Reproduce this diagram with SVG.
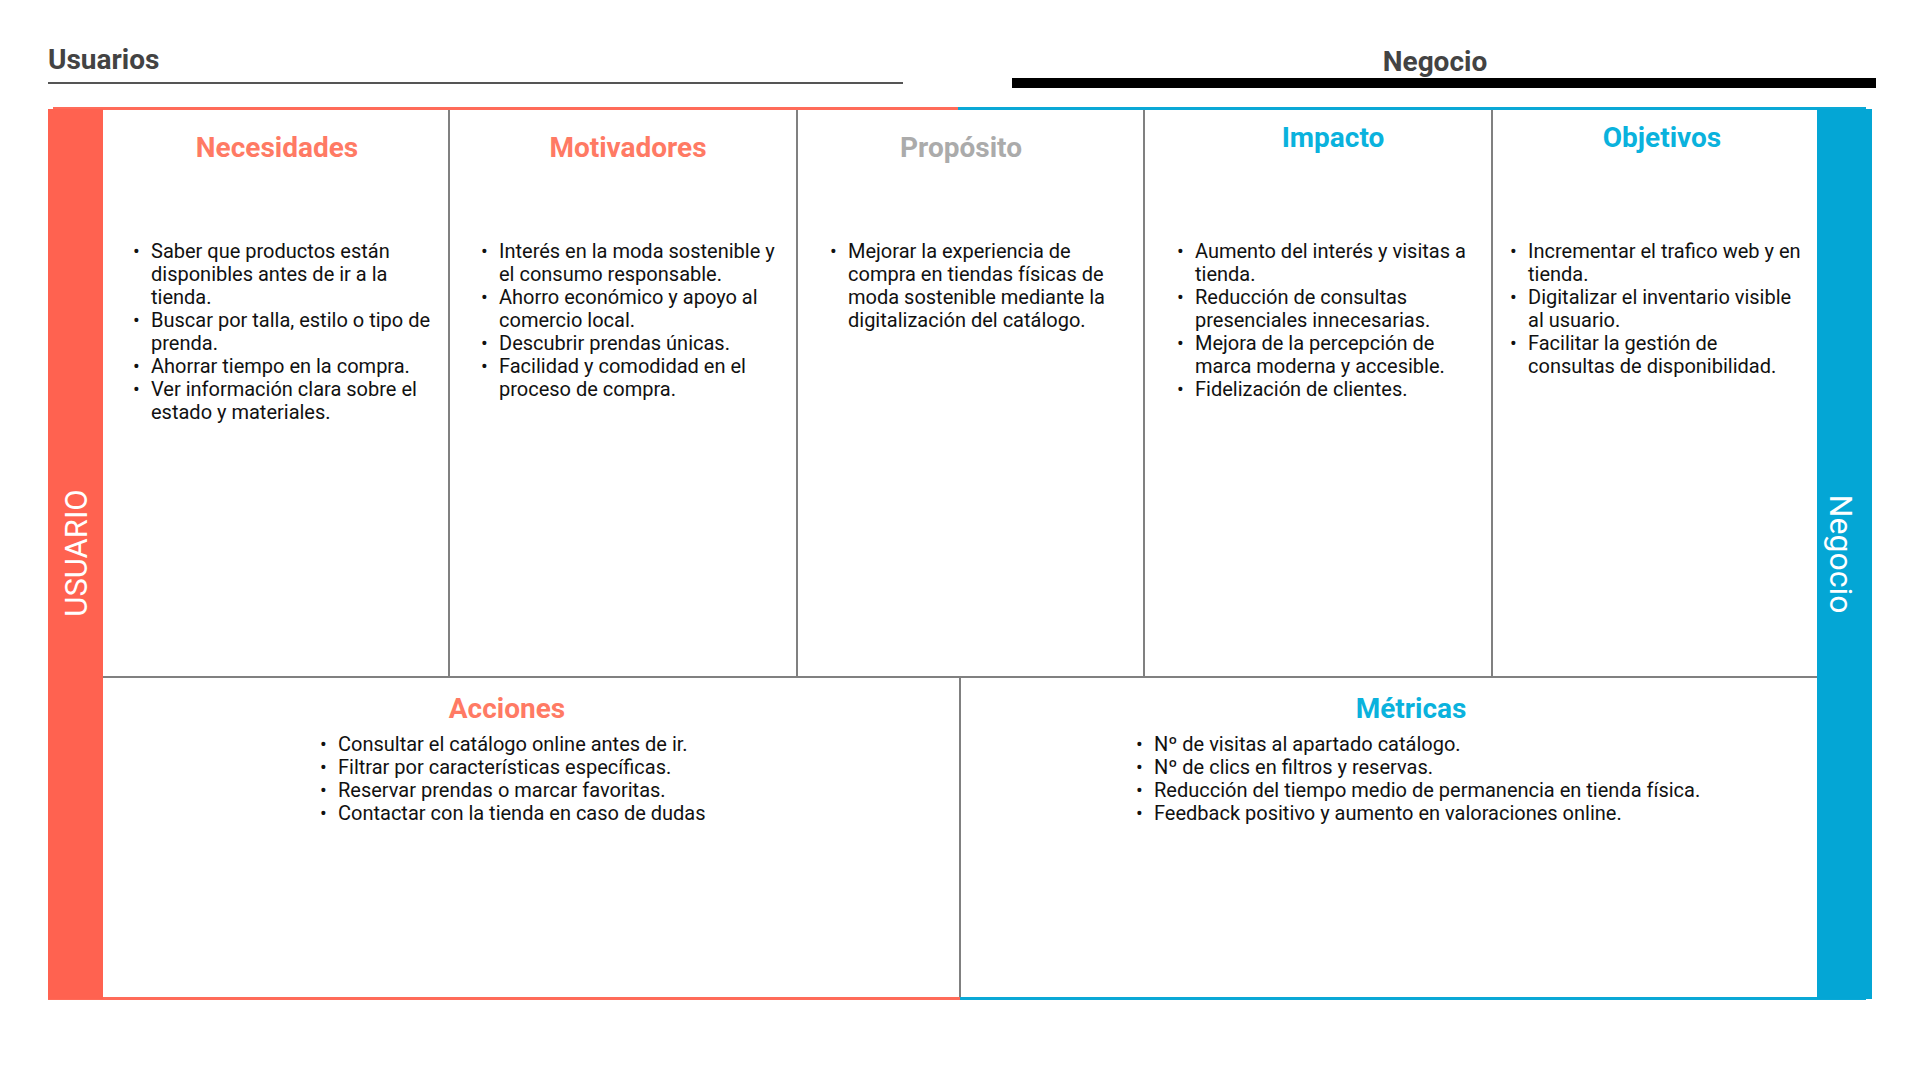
<svg xmlns="http://www.w3.org/2000/svg" width="1920" height="1080" viewBox="0 0 1920 1080">
<style>
.hdr{font-family:Roboto,"Liberation Sans",sans-serif;font-weight:700;font-size:28px;fill:#434343}
.ttl{font-family:Roboto,"Liberation Sans",sans-serif;font-weight:700;font-size:28px;text-anchor:middle}
.red{fill:#FF7A64}
.blue{fill:#0AB2DD}
.grey{fill:#ABABAB}
.body{font-family:Roboto,"Liberation Sans",sans-serif;font-size:20px;fill:#111}
.side{font-family:Roboto,"Liberation Sans",sans-serif;font-weight:400;font-size:31px;fill:#fff;text-anchor:middle}
.div{stroke:#808080;stroke-width:2;fill:none}
</style>
<rect width="1920" height="1080" fill="#fff"/>
<g id="header-usuarios">
<text class="hdr" x="48" y="69">Usuarios</text>
<line x1="48" y1="83" x2="903" y2="83" stroke="#555" stroke-width="2"/>
</g>
<g id="header-negocio">
<text class="hdr" x="1435" y="71" text-anchor="middle">Negocio</text>
<rect x="1012" y="78" width="864" height="10" fill="#000"/>
</g>
<g id="frame">
<line x1="53" y1="108.5" x2="958" y2="108.5" stroke="#FF6B59" stroke-width="3"/>
<line x1="958" y1="108.5" x2="1866" y2="108.5" stroke="#0AA8D6" stroke-width="3"/>
<line x1="48" y1="998.5" x2="960" y2="998.5" stroke="#FF6B59" stroke-width="3"/>
<line x1="960" y1="998.5" x2="1866" y2="998.5" stroke="#0AA8D6" stroke-width="3"/>
</g>
<g id="connectors">
<line class="div" x1="449" y1="110" x2="449" y2="677"/>
<line class="div" x1="797" y1="110" x2="797" y2="677"/>
<line class="div" x1="1144" y1="110" x2="1144" y2="677"/>
<line class="div" x1="1492" y1="110" x2="1492" y2="677"/>
<line class="div" x1="103" y1="677" x2="1817" y2="677"/>
<line class="div" x1="960" y1="677" x2="960" y2="997"/>
</g>
<g id="usuario-bar">
<rect x="48" y="109" width="55" height="890" fill="#FF6250"/>
<text class="side" transform="translate(86.5,553) rotate(-90)">USUARIO</text>
</g>
<g id="negocio-bar">
<rect x="1817" y="109" width="55" height="890" fill="#04A6D5"/>
<text class="side" style="font-size:32px" transform="translate(1830,554) rotate(90)">Negocio</text>
</g>
<g id="necesidades">
<text class="ttl red" x="277" y="157">Necesidades</text>
<text class="body">
<tspan x="133" y="258">•</tspan><tspan x="151" y="258">Saber que productos están</tspan>
<tspan x="151" y="281">disponibles antes de ir a la</tspan>
<tspan x="151" y="304">tienda.</tspan>
<tspan x="133" y="327">•</tspan><tspan x="151" y="327">Buscar por talla, estilo o tipo de</tspan>
<tspan x="151" y="350">prenda.</tspan>
<tspan x="133" y="373">•</tspan><tspan x="151" y="373">Ahorrar tiempo en la compra.</tspan>
<tspan x="133" y="396">•</tspan><tspan x="151" y="396">Ver información clara sobre el</tspan>
<tspan x="151" y="419">estado y materiales.</tspan>
</text>
</g>
<g id="motivadores">
<text class="ttl red" x="628" y="157">Motivadores</text>
<text class="body">
<tspan x="481" y="258">•</tspan><tspan x="499" y="258">Interés en la moda sostenible y</tspan>
<tspan x="499" y="281">el consumo responsable.</tspan>
<tspan x="481" y="304">•</tspan><tspan x="499" y="304">Ahorro económico y apoyo al</tspan>
<tspan x="499" y="327">comercio local.</tspan>
<tspan x="481" y="350">•</tspan><tspan x="499" y="350">Descubrir prendas únicas.</tspan>
<tspan x="481" y="373">•</tspan><tspan x="499" y="373">Facilidad y comodidad en el</tspan>
<tspan x="499" y="396">proceso de compra.</tspan>
</text>
</g>
<g id="proposito">
<text class="ttl grey" x="961" y="157">Propósito</text>
<text class="body">
<tspan x="830" y="258">•</tspan><tspan x="848" y="258">Mejorar la experiencia de</tspan>
<tspan x="848" y="281">compra en tiendas físicas de</tspan>
<tspan x="848" y="304">moda sostenible mediante la</tspan>
<tspan x="848" y="327">digitalización del catálogo.</tspan>
</text>
</g>
<g id="impacto">
<text class="ttl blue" x="1333" y="147">Impacto</text>
<text class="body">
<tspan x="1177" y="258">•</tspan><tspan x="1195" y="258">Aumento del interés y visitas a</tspan>
<tspan x="1195" y="281">tienda.</tspan>
<tspan x="1177" y="304">•</tspan><tspan x="1195" y="304">Reducción de consultas</tspan>
<tspan x="1195" y="327">presenciales innecesarias.</tspan>
<tspan x="1177" y="350">•</tspan><tspan x="1195" y="350">Mejora de la percepción de</tspan>
<tspan x="1195" y="373">marca moderna y accesible.</tspan>
<tspan x="1177" y="396">•</tspan><tspan x="1195" y="396">Fidelización de clientes.</tspan>
</text>
</g>
<g id="objetivos">
<text class="ttl blue" x="1662" y="147">Objetivos</text>
<text class="body">
<tspan x="1510" y="258">•</tspan><tspan x="1528" y="258">Incrementar el trafico web y en</tspan>
<tspan x="1528" y="281">tienda.</tspan>
<tspan x="1510" y="304">•</tspan><tspan x="1528" y="304">Digitalizar el inventario visible</tspan>
<tspan x="1528" y="327">al usuario.</tspan>
<tspan x="1510" y="350">•</tspan><tspan x="1528" y="350">Facilitar la gestión de</tspan>
<tspan x="1528" y="373">consultas de disponibilidad.</tspan>
</text>
</g>
<g id="acciones">
<text class="ttl red" x="507" y="718">Acciones</text>
<text class="body">
<tspan x="320" y="751">•</tspan><tspan x="338" y="751">Consultar el catálogo online antes de ir.</tspan>
<tspan x="320" y="774">•</tspan><tspan x="338" y="774">Filtrar por características específicas.</tspan>
<tspan x="320" y="797">•</tspan><tspan x="338" y="797">Reservar prendas o marcar favoritas.</tspan>
<tspan x="320" y="820">•</tspan><tspan x="338" y="820">Contactar con la tienda en caso de dudas</tspan>
</text>
</g>
<g id="metricas">
<text class="ttl blue" x="1411" y="718">Métricas</text>
<text class="body">
<tspan x="1136" y="751">•</tspan><tspan x="1154" y="751">Nº de visitas al apartado catálogo.</tspan>
<tspan x="1136" y="774">•</tspan><tspan x="1154" y="774">Nº de clics en filtros y reservas.</tspan>
<tspan x="1136" y="797">•</tspan><tspan x="1154" y="797">Reducción del tiempo medio de permanencia en tienda física.</tspan>
<tspan x="1136" y="820">•</tspan><tspan x="1154" y="820">Feedback positivo y aumento en valoraciones online.</tspan>
</text>
</g>
</svg>
